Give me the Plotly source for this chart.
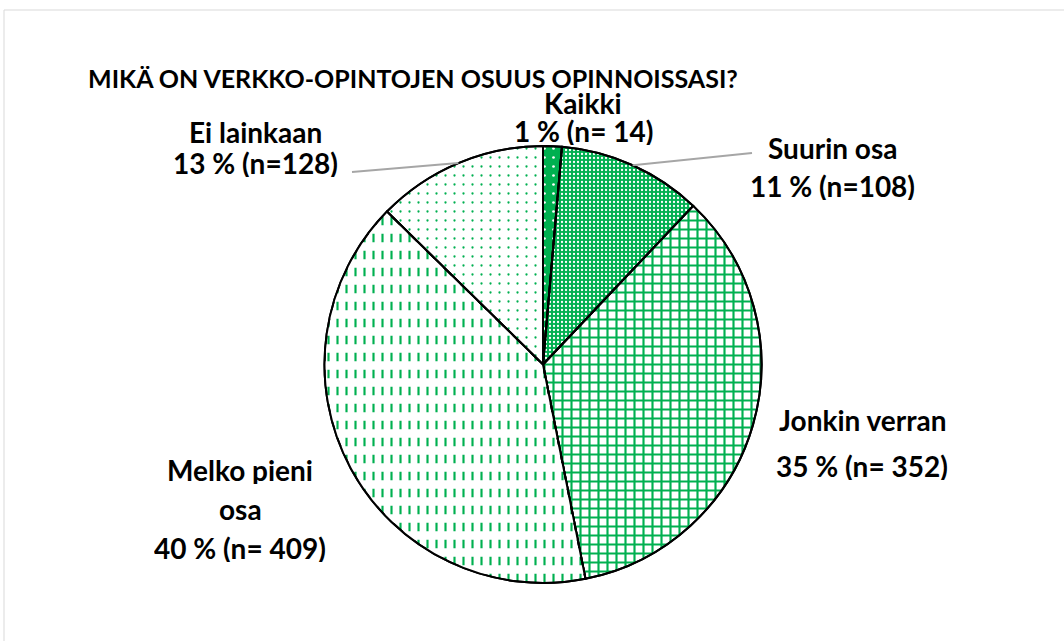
import math
import plotly.graph_objects as go

# ---- data ----
categories = ["Kaikki", "Suurin osa", "Jonkin verran", "Melko pieni osa", "Ei lainkaan"]
counts = [14, 108, 352, 409, 128]
percents = [1, 11, 35, 40, 13]
label_lines = [
    ["Kaikki", "1 % (n= 14)"],
    ["Suurin osa", "11 % (n=108)"],
    ["Jonkin verran", "35 % (n= 352)"],
    ["Melko pieni", "osa", "40 % (n= 409)"],
    ["Ei lainkaan", "13 % (n=128)"],
]
title_text = "MIKÄ ON VERKKO-OPINTOJEN OSUUS OPINNOISSASI?"

# ---- layout constants (pixels) ----
W, H = 1064, 641
CX, CY, R = 543, 364.5, 218.5
GREEN = "#00B050"
FONT = "Lato"

def px(x):
    return x / W

def py(y):
    return 1 - y / H

dom_x = [px(CX - R), px(CX + R)]
dom_y = [py(CY + R), py(CY - R)]

pattern_base = dict(
    shape=[".", ".", "+", "|", "."],
    fgcolor=["white", "white", GREEN, GREEN, GREEN],
    bgcolor=[GREEN, GREEN, "white", "white", "white"],
    size=[9, 4, 9, 9, 9],
    solidity=[0.07, 0.25, 0.42, 0.24, 0.05],
    fgopacity=1,
    fillmode="overlay",
)

fig = go.Figure()
fig.add_trace(go.Pie(
    labels=categories, values=counts, sort=False, direction="clockwise", rotation=0,
    domain=dict(x=dom_x, y=dom_y),
    marker=dict(colors=[GREEN, GREEN, "white", "white", "white"],
                line=dict(color="black", width=2),
                pattern=pattern_base),
    textinfo="none", hoverinfo="skip", showlegend=False,
))
# overlay: white horizontal bands to break the vertical lines into dashes
fig.add_trace(go.Pie(
    labels=categories, values=counts, sort=False, direction="clockwise", rotation=0,
    domain=dict(x=dom_x, y=dom_y),
    marker=dict(colors=["rgba(0,0,0,0)"] * 5,
                line=dict(color="black", width=2),
                pattern=dict(shape=["", "", "", "-", ""],
                             fgcolor=["white"] * 5,
                             bgcolor=["rgba(0,0,0,0)"] * 5,
                             size=[17] * 5, solidity=[0.5] * 5,
                             fgopacity=1,
                             fillmode="overlay")),
    textinfo="none", hoverinfo="skip", showlegend=False,
))

# label positions (pixels: center x, first line center y, line spacing)
label_pos = [
    (583, 103, 28),
    (832, 148, 38),
    (862, 420, 46),
    (240, 470, 39),
    (255, 132, 31),
]
annotations = []
for lines, (lx, ly, ls) in zip(label_lines, label_pos):
    for i, t in enumerate(lines):
        annotations.append(dict(
            x=px(lx), y=py(ly + i * ls), xref="paper", yref="paper",
            text=f"<b>{t}</b>", showarrow=False, xanchor="center", yanchor="middle",
            height=28, valign="middle", borderpad=0,
            font=dict(family=FONT, size=28, color="black"),
        ))
annotations.append(dict(
    x=px(87), y=py(78), xref="paper", yref="paper", text=f"<b>{title_text}</b>",
    showarrow=False, xanchor="left", yanchor="middle",
    height=24, valign="middle", borderpad=0,
    font=dict(family=FONT, size=25, color="black"),
))

# leader lines: from label to the middle of the slice's outer arc
total = sum(counts)
cum = 0
mid_angles = []
for v in counts:
    mid_angles.append((cum + v / 2) / total * 2 * math.pi)
    cum += v
leader_starts = {1: (752, 153), 4: (352, 172)}
shapes = []
for idx, (sx, sy) in leader_starts.items():
    a = mid_angles[idx]
    ex, ey = CX + R * math.sin(a), CY - R * math.cos(a)
    shapes.append(dict(type="line", xref="paper", yref="paper",
                       x0=px(sx), y0=py(sy), x1=px(ex), y1=py(ey),
                       line=dict(color="#A6A6A6", width=2)))
# chart-area border (top and left visible)
shapes.append(dict(type="rect", xref="paper", yref="paper",
                   x0=px(4), y0=-0.05, x1=1.05, y1=py(10),
                   line=dict(color="#D9D9D9", width=1), layer="below"))

fig.update_layout(
    width=W, height=H, margin=dict(l=0, r=0, t=0, b=0),
    paper_bgcolor="white", plot_bgcolor="white",
    annotations=annotations, shapes=shapes,
)
fig.write_html("out.html", config={"displayModeBar": False},
               post_script="document.body.style.margin='0';document.body.style.overflow='hidden';")
